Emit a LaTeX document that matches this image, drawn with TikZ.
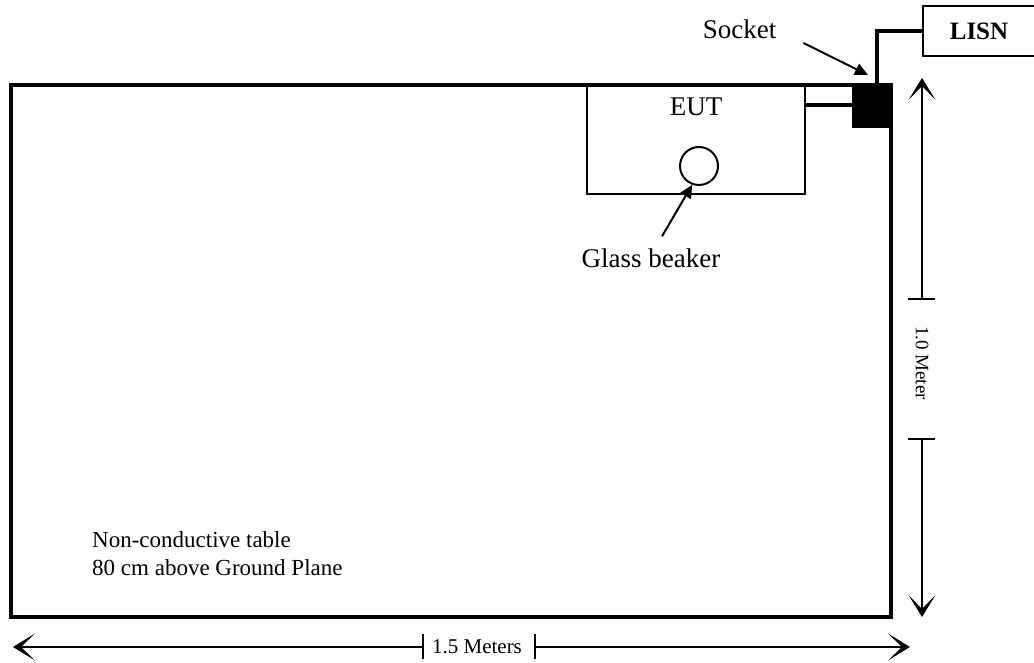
\documentclass[tikz,border=0pt]{standalone}
\usepackage{fontspec}
\setmainfont{Liberation Serif}
\usetikzlibrary{arrows.meta, positioning}
\newcommand\bigtxt{\fontsize{27}{32}\selectfont}

\begin{document}
\begin{tikzpicture}[x=1pt, y=1pt,
  box/.style = {draw, inner sep=0pt, outer sep=0pt, anchor=north west},
  cable/.style = {line width=4pt},
  pointer/.style = {line width=2pt, -{Triangle[length=13pt, width=12pt]}},
  dimline/.style = {line width=1.5pt, -{Stealth[length=22pt, width=27pt, inset=14pt]}},
  tick/.style = {line width=1.5pt}]
\useasboundingbox (0,0) rectangle (1034,663);
\node[box, line width=4pt, minimum width=880pt, minimum height=532pt](table) at (11,578){};
\node[box, line width=1.5pt, minimum width=218pt, minimum height=109pt](eut) at (587,578){};
\node[below=13pt of eut.north, inner sep=0pt](euttxt){\bigtxt EUT};
\node[draw, circle, line width=2pt, minimum size=38pt, inner sep=0pt](beaker) at (699,497){};
\node[box, fill, minimum width=40pt, minimum height=43pt](socket) at (852,579){};
\node[box, line width=1.5pt, minimum width=112pt, minimum height=50pt](lisn) at (923,657){\fontsize{25}{30}\selectfont\bfseries LISN};
\node[inner sep=0pt](sockettxt) at (739.5,634){\bigtxt Socket};
\node[inner sep=0pt](beakertxt) at (651,405){\bigtxt Glass beaker};
\node[anchor=south west, inner sep=0pt, align=left, font=\fontsize{23}{28}\selectfont](tablenote) at (92,87){Non-conductive table\\80 cm above Ground Plane};
\draw[cable] (socket.west -| eut.east) -- (socket.west);
\draw[cable] ([xshift=5pt]socket.north) |- (lisn.west);
\draw[pointer] ([shift={(27pt,-14pt)}]sockettxt.east) -- ([shift={(16pt,9pt)}]socket.north west);
\draw[pointer] ([shift={(11pt,12pt)}]beakertxt.north) -- (beaker.-110);
% height dimension
\coordinate (htop) at (922,585);
\coordinate (hbot) at (922,46);
\coordinate (hup) at (922,364);
\coordinate (hlow) at (922,224);
\node[rotate=-90, inner sep=0pt](htxt) at (922,300){\fontsize{19}{23}\selectfont 1.0 Meter};
\draw[dimline] (hup) -- (htop);
\draw[dimline] (hlow) -- (hbot);
\draw[tick] ([xshift=-14pt]hup) -- ([xshift=13pt]hup);
\draw[tick] ([xshift=-14pt]hlow) -- ([xshift=13pt]hlow);
% width dimension
\coordinate (wleft) at (13,16);
\coordinate (wright) at (910,16);
\coordinate (wa) at (423,16);
\coordinate (wb) at (535,16);
\node[inner sep=0pt](wtxt) at (477,16){\fontsize{21}{25}\selectfont 1.5 Meters};
\draw[dimline] (wa) -- (wleft);
\draw[dimline] (wb) -- (wright);
\draw[tick] ([yshift=-12pt]wa) -- ([yshift=13pt]wa);
\draw[tick] ([yshift=-12pt]wb) -- ([yshift=13pt]wb);
\end{tikzpicture}
\end{document}
